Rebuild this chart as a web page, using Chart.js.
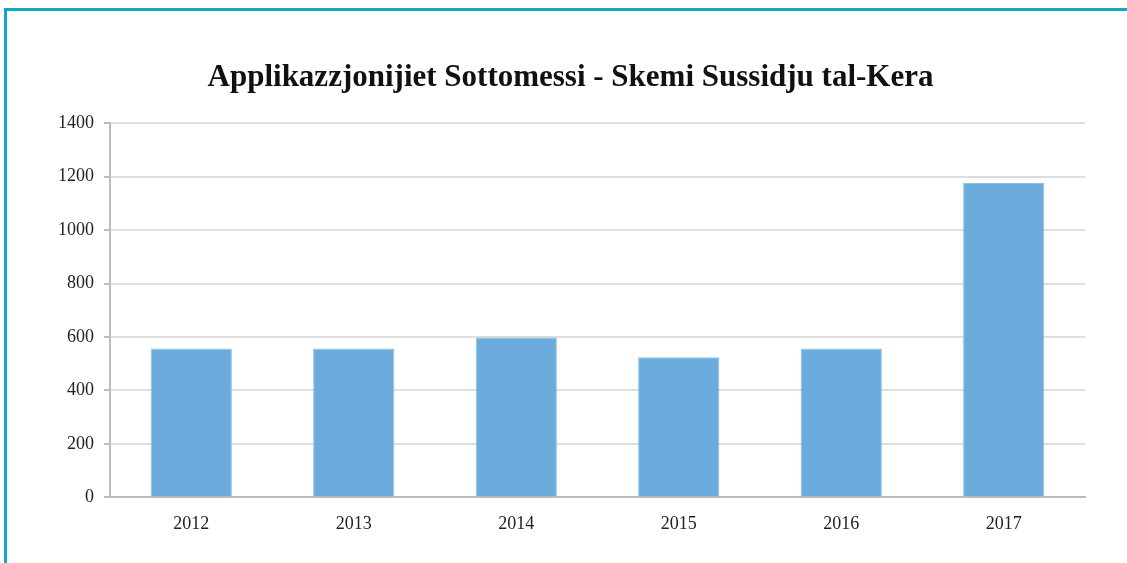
<!DOCTYPE html>
<html>
<head>
<meta charset="utf-8">
<script src="https://cdn.jsdelivr.net/npm/chart.js@4/dist/chart.umd.min.js"></script>
<style>
  html, body { margin: 0; padding: 0; background: #fff; }
  #wrap { position: relative; width: 1127px; height: 563px; overflow: hidden; }
  #frame { position: absolute; left: 4px; top: 8px; width: 1200px; height: 700px;
           border-left: 3px solid #14a6c8; border-top: 3px solid #14a6c8; box-sizing: border-box; }
  canvas { position: absolute; left: 0; top: 0; }
</style>
</head>
<body>
<div id="wrap">
  <div id="frame"></div>
  <canvas id="c" width="1127" height="563"></canvas>
</div>
<script>
const categories = ['2012', '2013', '2014', '2015', '2016', '2017'];
const applications = [557, 557, 598, 524, 557, 1176];
const yTicks = [0, 200, 400, 600, 800, 1000, 1200, 1400];
const chartTitle = 'Applikazzjonijiet Sottomessi - Skemi Sussidju tal-Kera';

const serif = "'Liberation Serif', 'Times New Roman', serif";

new Chart(document.getElementById('c'), {
  type: 'bar',
  data: {
    labels: categories,
    datasets: [{
      data: applications,
      backgroundColor: '#6aabdc',
      borderColor: '#8dc0e6',
      borderWidth: { top: 1, left: 1, right: 1, bottom: 0 },
      categoryPercentage: 0.5,
      barPercentage: 1.0
    }]
  },
  options: {
    responsive: false,
    animation: false,
    layout: { padding: { left: 56, right: 42, top: 0, bottom: 20 } },
    plugins: {
      legend: { display: false },
      tooltip: { enabled: false },
      title: {
        display: true,
        text: chartTitle,
        color: '#111',
        font: { family: serif, size: 31, weight: 'bold' },
        padding: { top: 59, bottom: 27 }
      }
    },
    scales: {
      x: {
        grid: { display: false },
        border: { display: true, color: '#bcbcbc', width: 2 },
        ticks: { color: '#222', font: { family: serif, size: 18 }, padding: 8 }
      },
      y: {
        min: 0,
        max: 1400,
        afterBuildTicks: (s) => { s.ticks = yTicks.map(v => ({ value: v })); },
        afterFit: (s) => { s.width = 54; },
        grid: { color: '#dedede', lineWidth: 2, drawTicks: true, tickLength: 6, tickColor: '#bcbcbc' },
        border: { display: true, color: '#bcbcbc', width: 2 },
        ticks: { color: '#222', font: { family: serif, size: 18 }, padding: 10,
                 callback: (v) => String(v) }
      }
    }
  }
});
</script>
</body>
</html>
